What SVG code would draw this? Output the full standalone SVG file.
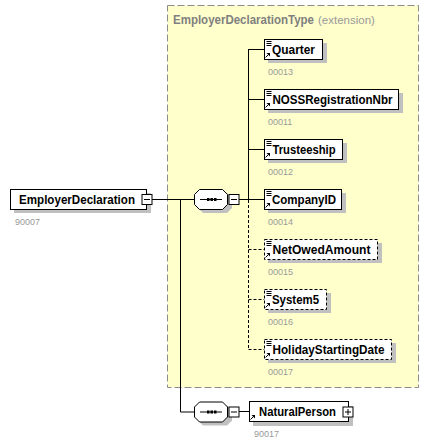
<svg xmlns="http://www.w3.org/2000/svg" width="433" height="444" viewBox="0 0 433 444">
<style>
.bg{fill:#ffffff}
.ext{fill:#ffffcc;stroke:#8c8c8c;stroke-width:1;stroke-dasharray:7,3}
.title{font-family:"Liberation Sans",Arial,sans-serif;font-size:12px;font-weight:bold;fill:#808080}
.titlex{font-family:"Liberation Sans",Arial,sans-serif;font-size:11.5px;fill:#999999}
.sh{fill:#c0c0c0}
.box{fill:#ffffff;stroke:#000000;stroke-width:1}
.opt{fill:#ffffff;stroke:#000000;stroke-width:1;stroke-dasharray:3,2}
.lbl{font-family:"Liberation Sans",Arial,sans-serif;font-size:12px;font-weight:bold;fill:#000000}
.id{font-family:"Liberation Sans",Arial,sans-serif;font-size:9px;fill:#999999}
.ln{fill:none;stroke:#000000;stroke-width:1}
.dl{fill:none;stroke:#000000;stroke-width:1;stroke-dasharray:3,2}
.ic{fill:none;stroke:#000000;stroke-width:1}
.icf{fill:#000000}
</style>
<defs>
<g id="doc">
<path class="ic" d="M1.5,1.5h5M1.5,3.5h5M1.5,5.5h5"/>
</g>
<g id="ref">
<path class="ic" d="M1.5,18.5l3,-3"/>
<path class="icf" d="M2.5,14h3.5v3.5z"/>
</g>
<g id="minus">
<rect x="0.5" y="0.5" width="10" height="10" fill="#ffffff" stroke="#000000"/>
<path d="M2.5,5.5h6" stroke="#000000"/>
</g>
<g id="plus">
<rect x="0.5" y="0.5" width="10" height="10" fill="#ffffff" stroke="#000000"/>
<path d="M2.5,5.5h6M5.5,2.5v6" stroke="#000000"/>
</g>
<g id="seq">
<path class="sh" d="M9,4h24l5,5v10l-5,5h-24l-5,-5v-10z"/>
<path d="M5.5,0.5h23l5,5v10l-5,5h-23l-5,-5v-10z" fill="#ffffff" stroke="#000000"/>
<path d="M6,10.5h22" stroke="#000000"/>
<rect x="13" y="9" width="2.5" height="3" fill="#000000"/>
<rect x="16.5" y="9" width="2.5" height="3" fill="#000000"/>
<rect x="20" y="9" width="2.5" height="3" fill="#000000"/>
</g>
</defs>
<rect class="bg" x="0" y="0" width="433" height="444"/>

<g id="extension">
<rect class="ext" x="167.5" y="5.5" width="251" height="382"/>
<text x="173" y="23.5"><tspan class="title" textLength="141" lengthAdjust="spacingAndGlyphs">EmployerDeclarationType</tspan><tspan class="titlex" dx="4">(extension)</tspan></text>
</g>

<g id="connectors">
<path class="ln" d="M152,199.5h42"/>
<path class="ln" d="M180.5,199.5v212.5h14"/>
<path class="ln" d="M239,199.5h25"/>
<path class="ln" d="M248.5,49v150.5"/>
<path class="dl" d="M248.5,200v149.5"/>
<path class="ln" d="M248.5,49.5h16"/>
<path class="ln" d="M248.5,99.5h16"/>
<path class="ln" d="M248.5,149.5h16"/>
<path class="dl" d="M248.5,249.5h16"/>
<path class="dl" d="M248.5,299.5h16"/>
<path class="dl" d="M248.5,349.5h16"/>
<path class="ln" d="M239,411.5h10"/>
</g>

<g id="EmployerDeclaration">
<rect class="sh" x="14" y="193" width="137" height="20"/>
<rect class="box" x="10.5" y="189.5" width="136" height="20"/>
<text class="lbl" x="19" y="204" textLength="116" lengthAdjust="spacingAndGlyphs">EmployerDeclaration</text>
<use href="#minus" x="141.5" y="194"/>
<text class="id" x="15" y="225">90007</text>
</g>

<g id="sequence1">
<use href="#seq" x="194" y="189"/>
<use href="#minus" x="228.5" y="194"/>
</g>

<g id="Quarter">
<rect class="sh" x="268" y="43" width="59" height="20"/>
<rect class="box" x="264.5" y="39.5" width="58" height="20"/>
<use href="#doc" x="265" y="40"/>
<use href="#ref" x="264" y="39"/>
<text class="lbl" x="272" y="54" textLength="43" lengthAdjust="spacingAndGlyphs">Quarter</text>
<text class="id" x="268" y="75">00013</text>
</g>

<g id="NOSSRegistrationNbr">
<rect class="sh" x="268" y="93" width="135" height="20"/>
<rect class="box" x="264.5" y="89.5" width="134" height="20"/>
<use href="#doc" x="265" y="90"/>
<use href="#ref" x="264" y="89"/>
<text class="lbl" x="272.5" y="104" textLength="120" lengthAdjust="spacingAndGlyphs">NOSSRegistrationNbr</text>
<text class="id" x="268" y="125">00011</text>
</g>

<g id="Trusteeship">
<rect class="sh" x="268" y="143" width="79" height="20"/>
<rect class="box" x="264.5" y="139.5" width="78" height="20"/>
<use href="#doc" x="265" y="140"/>
<use href="#ref" x="264" y="139"/>
<text class="lbl" x="272.5" y="154" textLength="63" lengthAdjust="spacingAndGlyphs">Trusteeship</text>
<text class="id" x="268" y="175">00012</text>
</g>

<g id="CompanyID">
<rect class="sh" x="268" y="193" width="78" height="20"/>
<rect class="box" x="264.5" y="189.5" width="77" height="20"/>
<use href="#doc" x="265" y="190"/>
<use href="#ref" x="264" y="189"/>
<text class="lbl" x="272" y="204" textLength="64" lengthAdjust="spacingAndGlyphs">CompanyID</text>
<text class="id" x="268" y="225">00014</text>
</g>

<g id="NetOwedAmount">
<rect class="sh" x="268" y="243" width="114" height="20"/>
<rect class="opt" x="264.5" y="239.5" width="113" height="20"/>
<use href="#doc" x="265" y="240"/>
<use href="#ref" x="264" y="239"/>
<text class="lbl" x="272.5" y="254" textLength="98" lengthAdjust="spacingAndGlyphs">NetOwedAmount</text>
<text class="id" x="268" y="275">00015</text>
</g>

<g id="System5">
<rect class="sh" x="268" y="293" width="63" height="20"/>
<rect class="opt" x="264.5" y="289.5" width="62" height="20"/>
<use href="#doc" x="265" y="290"/>
<use href="#ref" x="264" y="289"/>
<text class="lbl" x="272" y="304" textLength="47" lengthAdjust="spacingAndGlyphs">System5</text>
<text class="id" x="268" y="325">00016</text>
</g>

<g id="HolidayStartingDate">
<rect class="sh" x="268" y="343" width="128" height="20"/>
<rect class="opt" x="264.5" y="339.5" width="127" height="20"/>
<use href="#doc" x="265" y="340"/>
<use href="#ref" x="264" y="339"/>
<text class="lbl" x="272.5" y="354" textLength="112" lengthAdjust="spacingAndGlyphs">HolidayStartingDate</text>
<text class="id" x="268" y="375">00017</text>
</g>

<g id="sequence2">
<use href="#seq" x="194" y="401.5"/>
<use href="#minus" x="228.5" y="406.5"/>
</g>

<g id="NaturalPerson">
<rect class="sh" x="253" y="406" width="100" height="20"/>
<rect class="box" x="249.5" y="401.5" width="99" height="20"/>
<use href="#ref" x="249" y="401"/>
<use href="#plus" x="342.5" y="406.5"/>
<text class="lbl" x="259" y="416" textLength="77" lengthAdjust="spacingAndGlyphs">NaturalPerson</text>
<text class="id" x="254" y="437">90017</text>
</g>
</svg>
